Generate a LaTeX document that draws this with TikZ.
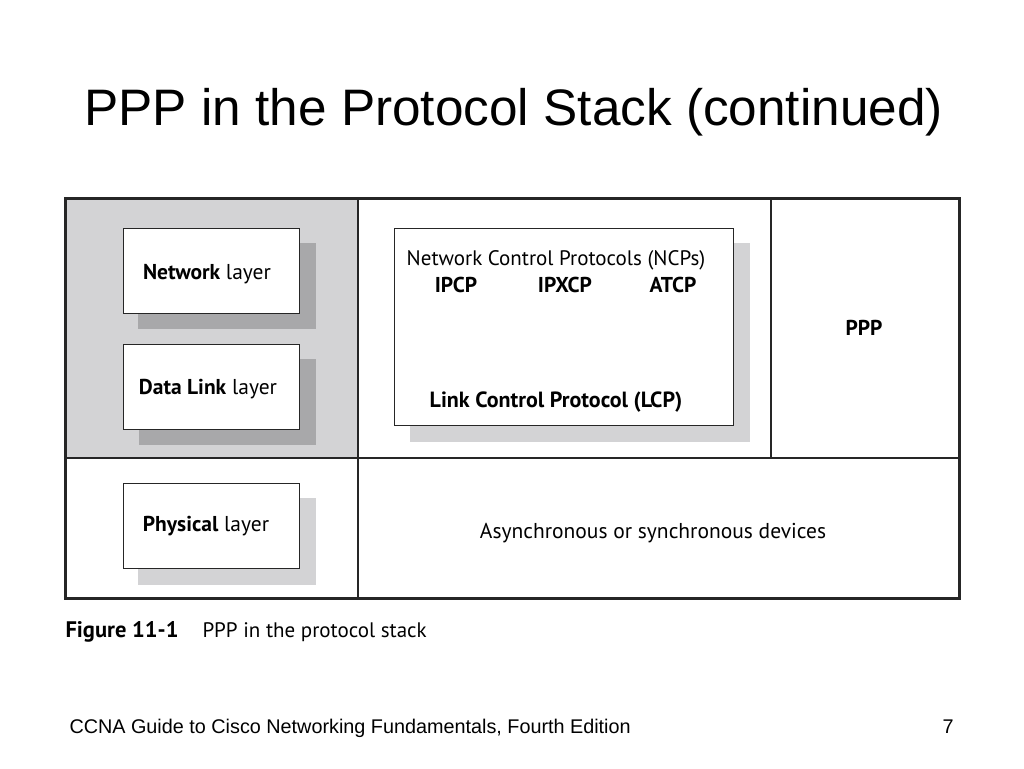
\documentclass[tikz,border=0pt]{standalone}
\usepackage{fontspec}
\setmainfont{PT Sans}
\newfontfamily\slidefont{Liberation Sans}
\usetikzlibrary{positioning}
\definecolor{panelgrey}{HTML}{D3D3D5}
\definecolor{darkshade}{HTML}{A8A8AA}
\definecolor{lightshade}{HTML}{D3D3D5}

\begin{document}
\begin{tikzpicture}[x=1pt, y=-1pt, line width=1pt,
    layer/.style={rectangle, draw=black!85, fill=white, line width=1pt, minimum width=176pt, minimum height=85pt, inner sep=0pt, font=\fontsize{21.5}{24}\selectfont},
    lbl/.style={inner sep=0pt, anchor=base, font=\fontsize{21.5}{24}\selectfont},
    boldlbl/.style={lbl, font=\bfseries\fontsize{21.5}{24}\selectfont},
    frame/.style={draw=black!85, line width=3pt}]

    \useasboundingbox (0, 0) rectangle (1024, 768);

    % slide title and footer
    \node[inner sep=0pt, anchor=base west, font=\slidefont\fontsize{51.3}{56}\selectfont] (title) at (84, 125) {PPP in the Protocol Stack (continued)};
    \node[inner sep=0pt, anchor=base west, font=\slidefont\fontsize{19.8}{22}\selectfont] (footer) at (69, 733) {CCNA Guide to Cisco Networking Fundamentals, Fourth Edition};
    \node[inner sep=0pt, anchor=base east, font=\slidefont\fontsize{19.8}{22}\selectfont] (page) at (954, 733) {7};

    % grey panel and frame
    \fill[panelgrey] (65, 198) rectangle (358, 458);
    \draw[frame, line width=2.5pt] (358, 198) -- (358, 598);
    \draw[frame, line width=2.5pt] (771, 198) -- (771, 458);
    \draw[frame, line width=2.5pt] (65, 458) -- (959, 458);
    \draw[frame] (65, 198) rectangle (959, 598);

    % shadows
    \fill[darkshade] (138, 243) rectangle (316, 329);
    \fill[darkshade] (139, 359) rectangle (316, 445);
    \fill[lightshade] (138, 498) rectangle (316, 585);
    \fill[lightshade] (410, 243) rectangle (750, 442);

    % layer boxes
    \node[layer] (network) at (211, 270.5) {};
    \node[lbl] (networklbl) at (207, 279) {\textbf{Network} layer};
    \node[layer] (datalink) at (211.5, 386.5) {};
    \node[lbl] (datalinklbl) at (208, 394) {\textbf{Data Link} layer};
    \node[layer] (physical) at (211, 525.5) {};
    \node[lbl] (physicallbl) at (206, 531) {\textbf{Physical} layer};

    % control protocols
    \node[layer, minimum width=339pt, minimum height=197pt] (ncpbox) at (563.5, 326.5) {};
    \node[lbl, font=\fontsize{21}{24}\selectfont] (ncp) at (556, 265) {Network Control Protocols (NCPs)};
    \node[boldlbl] (ipcp) at (456, 292) {IPCP};
    \node[boldlbl] (ipxcp) at (565, 292) {IPXCP};
    \node[boldlbl] (atcp) at (673, 292) {ATCP};
    \node[boldlbl, font=\bfseries\fontsize{22}{24}\selectfont] (lcp) at (556, 407) {Link Control Protocol (LCP)};

    \node[boldlbl] (ppp) at (864, 335) {PPP};
    \node[lbl] (devices) at (653, 538) {Asynchronous or synchronous devices};

    % caption
    \node[inner sep=0pt, anchor=base west, font=\bfseries\fontsize{22.5}{24}\selectfont] (fig) at (65, 637) {Figure 11-1};
    \node[inner sep=0pt, anchor=base west, font=\fontsize{21}{24}\selectfont] (caption) at (202, 637) {PPP in the protocol stack};

\end{tikzpicture}
\end{document}
